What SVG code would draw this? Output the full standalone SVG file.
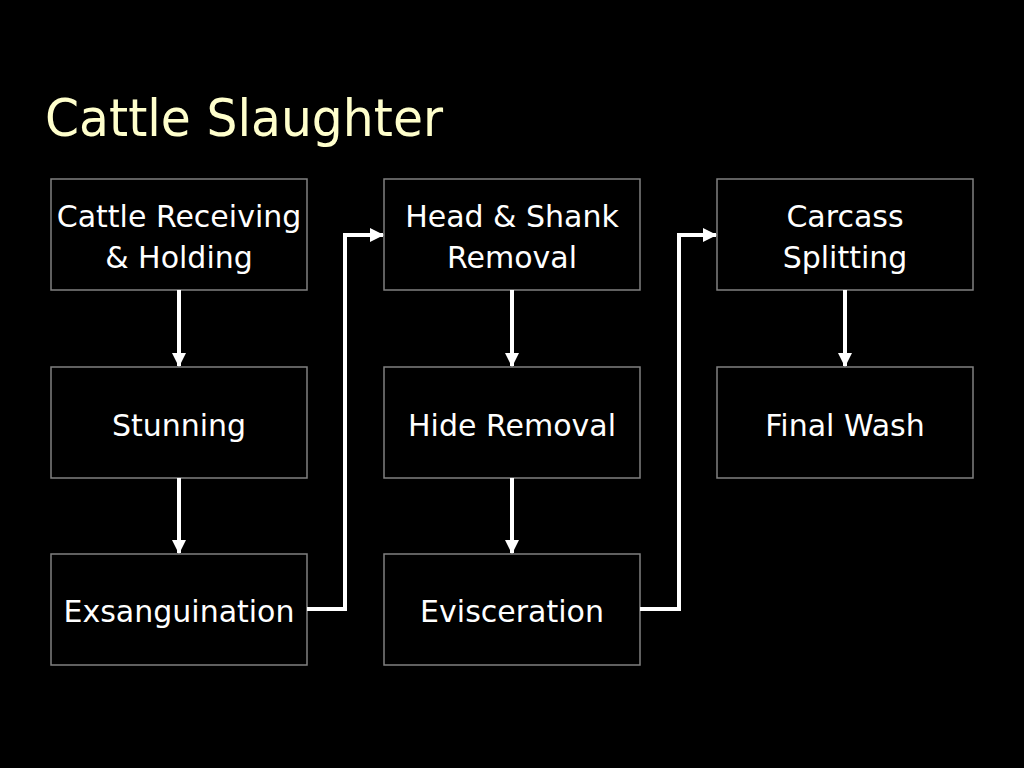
<svg xmlns="http://www.w3.org/2000/svg" width="1024" height="768" viewBox="0 0 1024 768">
<defs>
<style>
.box{fill:#000;stroke:#808080;stroke-width:1.5}
.t{font-family:"DejaVu Sans",Verdana,sans-serif;font-size:30px;fill:#fff;text-anchor:middle}
.c{fill:none;stroke:#fff;stroke-width:4}
.title{font-family:"DejaVu Sans",Verdana,sans-serif;font-size:52px;fill:#ffffcc}
</style>
<marker id="ah" markerUnits="userSpaceOnUse" markerWidth="14" markerHeight="14" viewBox="0 0 14 14" refX="13" refY="7" orient="auto">
<path d="M0,0 L14,7 L0,14 Z" fill="#fff"/>
</marker>
</defs>
<rect width="1024" height="768" fill="#000"/>
<text class="title" x="45" y="136" textLength="398" lengthAdjust="spacingAndGlyphs">Cattle Slaughter</text>
<g id="n1"><rect class="box" x="51" y="179" width="256" height="111"/><text class="t" x="179" y="227">Cattle Receiving</text><text class="t" x="179" y="268">&amp; Holding</text></g>
<g id="n2"><rect class="box" x="51" y="367" width="256" height="111"/><text class="t" x="179" y="436">Stunning</text></g>
<g id="n3"><rect class="box" x="51" y="554" width="256" height="111"/><text class="t" x="179" y="622">Exsanguination</text></g>
<g id="n4"><rect class="box" x="384" y="179" width="256" height="111"/><text class="t" x="512" y="227">Head &amp; Shank</text><text class="t" x="512" y="268">Removal</text></g>
<g id="n5"><rect class="box" x="384" y="367" width="256" height="111"/><text class="t" x="512" y="436">Hide Removal</text></g>
<g id="n6"><rect class="box" x="384" y="554" width="256" height="111"/><text class="t" x="512" y="622">Evisceration</text></g>
<g id="n7"><rect class="box" x="717" y="179" width="256" height="111"/><text class="t" x="845" y="227">Carcass</text><text class="t" x="845" y="268">Splitting</text></g>
<g id="n8"><rect class="box" x="717" y="367" width="256" height="111"/><text class="t" x="845" y="436">Final Wash</text></g>
<g id="connectors">
<path class="c" d="M179,290 V366" marker-end="url(#ah)"/>
<path class="c" d="M179,478 V553" marker-end="url(#ah)"/>
<path class="c" d="M512,290 V366" marker-end="url(#ah)"/>
<path class="c" d="M512,478 V553" marker-end="url(#ah)"/>
<path class="c" d="M845,290 V366" marker-end="url(#ah)"/>
<path class="c" d="M307,609 H345 V235 H383" marker-end="url(#ah)"/>
<path class="c" d="M640,609 H679 V235 H716" marker-end="url(#ah)"/>
</g>
</svg>
